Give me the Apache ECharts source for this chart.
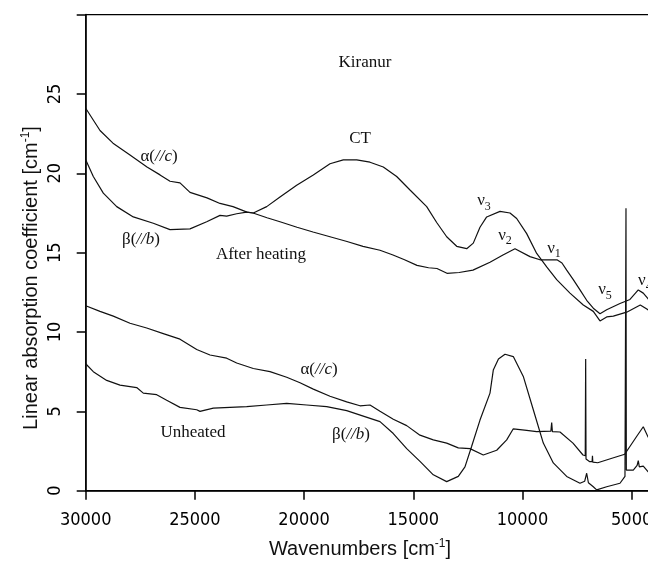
<!DOCTYPE html>
<html>
<head>
<meta charset="utf-8">
<script src="https://cdn.jsdelivr.net/npm/echarts@6/dist/echarts.min.js"></script>
<style>html,body{margin:0;padding:0;background:#fff}#c{width:648px;height:563px}</style>
</head>
<body>
<div id="c"></div>
<script>
// ---------- data ----------
const xTicks = [30000, 25000, 20000, 15000, 10000, 5000];

const heatedAlphaWn = [30000,29345,28750,27972,27193,26597,26139,25682,25224,24445,23850,23255,22614,22339,21698,21103,20324,19592,18813,18035,17303,16524,15929,15400,14830,14300,13915,13457,12900,12267,11488,10893,10343,9656,9198,8420,8191,7975,7673,7366,7060,6757,6450,6144,5535,5077,4697,4468,4253,4000];
const heatedAlphaVal = [24.1,22.7,21.9,21.15,20.4,19.9,19.5,19.4,18.8,18.45,18.1,17.9,17.55,17.5,17.2,16.95,16.6,16.3,16.0,15.7,15.4,15.15,14.85,14.55,14.2,14.05,14.0,13.7,13.75,13.9,14.4,14.85,15.25,14.75,14.55,14.55,14.35,13.9,13.3,12.65,12.0,11.5,11.15,11.4,11.8,12.05,12.65,12.45,12.1,11.6];

const heatedBetaWn = [30000,29652,29194,28580,27820,26905,26140,25224,24460,23850,23544,23086,22628,22326,21712,21103,20340,19578,18813,18205,17591,16982,16373,15760,15150,14386,13928,13470,13012,12554,12252,11945,11639,11029,10571,10265,9807,9349,8891,8433,7824,7215,6757,6450,6144,5840,5229,4606,4253,4000];
const heatedBetaVal = [20.85,19.8,18.75,17.9,17.25,16.85,16.45,16.5,16.95,17.35,17.3,17.45,17.55,17.5,17.9,18.5,19.25,19.9,20.6,20.85,20.85,20.7,20.4,19.8,18.95,17.9,16.9,16.0,15.4,15.25,15.6,16.6,17.25,17.6,17.5,17.15,16.2,14.95,14.1,13.3,12.45,11.7,11.3,10.7,10.95,11.0,11.25,11.7,11.4,11.0];

const unheatedAlphaWn = [30000,29345,28736,27972,27207,26447,25682,24917,24308,23544,23086,22326,21561,20796,20187,19578,18813,18049,17440,16982,16524,15915,15301,14693,14083,13470,12939,12403,11794,11180,10722,10420,9807,9349,8700,8662,8630,8282,7687,7229,7125,7106,7090,6919,6810,6795,6780,6553,5867,5317,5088,4781,4468,4253,4000];
const unheatedAlphaVal = [11.65,11.3,11.0,10.55,10.25,9.9,9.55,8.9,8.55,8.35,8.05,7.7,7.5,7.15,6.8,6.4,5.95,5.6,5.35,5.4,5.0,4.5,4.1,3.5,3.2,3.0,2.7,2.65,2.25,2.55,3.2,3.9,3.8,3.72,3.75,4.3,3.72,3.7,3.0,2.25,2.2,8.3,2.0,1.83,1.85,2.2,1.8,1.76,2.06,2.3,2.77,3.4,4.03,3.4,2.8];

const unheatedBetaWn = [30000,29652,29038,28429,27665,27362,26749,26291,25682,24917,24766,24157,23392,22628,21712,20796,19881,18965,18049,17289,16524,15915,15301,14693,14083,13470,12939,12633,12326,11945,11487,11336,11100,10800,10420,9962,9504,9046,8588,7975,7366,7150,7060,6980,6757,6603,6144,5535,5306,5275,5260,5245,4926,4750,4697,4650,4468,4253,4000];
const unheatedBetaVal = [8.0,7.5,6.95,6.65,6.5,6.15,6.05,5.7,5.25,5.1,5.0,5.2,5.25,5.3,5.4,5.5,5.4,5.3,5.05,4.7,4.35,3.6,2.65,1.85,1.0,0.57,0.9,1.5,2.8,4.45,6.15,7.6,8.3,8.6,8.45,7.2,5.1,3.0,1.75,0.9,0.47,0.6,1.1,0.5,0.25,0.05,0.25,0.47,0.9,1.0,17.8,1.3,1.3,1.6,1.9,1.5,1.55,1.2,0.9];

// annotation anchors in data coordinates [wavenumber, value]
const annotations = [
  {text: 'Kiranur', at: [17211, 27.0]},
  {text: 'CT', at: [17440, 22.16]},
  {text: 'α({i|//c})', at: [26643, 21.08]},
  {text: 'β({i|//b})', at: [27468, 15.85]},
  {text: 'After heating', at: [21974, 14.9]},
  {text: 'ν{s|3}', at: [11762, 18.26]},
  {text: 'ν{s|2}', at: [10801, 16.11]},
  {text: 'ν{s|1}', at: [8557, 15.29]},
  {text: 'ν{s|5}', at: [6222, 12.65]},
  {text: 'ν{s|4}', at: [4391, 13.22]},
  {text: 'α({i|//c})', at: [19317, 7.61]},
  {text: 'β({i|//b})', at: [17852, 3.51]},
  {text: 'Unheated', at: [25087, 3.64]}
];

// ---------- chart ----------
const zip = (a, b) => a.map((w, i) => [w, b[i]]);
const chart = echarts.init(document.getElementById('c'), null, {renderer: 'canvas'});
const tickFont = "'Liberation Sans Narrow','DejaVu Sans Condensed','Liberation Sans',sans-serif";
const serif = "'Liberation Serif','DejaVu Serif',serif";
const sans = "'Liberation Sans',Arial,sans-serif";
const lineSeries = (data) => ({
  type: 'line', data, showSymbol: false, symbol: 'none', clip: true,
  lineStyle: {color: '#111', width: 1.2}, animation: false
});

chart.setOption({
  animation: false,
  grid: {left: 85.7, top: 14.6, width: 567.8, height: 476.1, outerBoundsMode: 'none', containLabel: false,
    show: true, borderColor: '#000', borderWidth: 1.2},
  xAxis: {
    type: 'value', inverse: true, min: 4000, max: 30000,
    axisLine: {lineStyle: {color: '#000', width: 1.5}},
    axisTick: {show: true, customValues: xTicks, length: 9, lineStyle: {color: '#000', width: 1.5}},
    axisLabel: {customValues: xTicks, margin: 21, color: '#000', fontSize: 18, fontFamily: tickFont,
      showMinLabel: true, showMaxLabel: true, hideOverlap: false, formatter: v => String(v)},
    splitLine: {show: false}
  },
  yAxis: {
    type: 'value', min: 0, max: 30, interval: 5,
    axisLine: {show: true, lineStyle: {color: '#000', width: 1.5}},
    axisTick: {show: true, length: 9, lineStyle: {color: '#000', width: 1.5}},
    axisLabel: {rotate: 90, margin: 21, color: '#000', fontSize: 18, fontFamily: tickFont,
      formatter: v => (v === 30 ? '' : String(v))},
    splitLine: {show: false}
  },
  series: [
    lineSeries(zip(heatedAlphaWn, heatedAlphaVal)),
    lineSeries(zip(heatedBetaWn, heatedBetaVal)),
    lineSeries(zip(unheatedAlphaWn, unheatedAlphaVal)),
    lineSeries(zip(unheatedBetaWn, unheatedBetaVal))
  ]
});

const graphics = annotations.map(a => {
  const p = chart.convertToPixel({gridIndex: 0}, a.at);
  return {
    type: 'text', x: p[0], y: p[1], silent: true,
    style: {
      text: a.text, fill: '#111', font: '17px ' + serif,
      align: 'center', verticalAlign: 'middle',
      rich: {
        i: {fontStyle: 'italic', fontSize: 17, fontFamily: serif, fill: '#111'},
        s: {fontSize: 12, fontFamily: serif, fill: '#111', verticalAlign: 'bottom', padding: [12, 0, 0, 0]}
      }
    }
  };
});
graphics.push({
  type: 'text', x: 360, y: 549, silent: true,
  style: {text: 'Wavenumbers [cm{sup|-1}]', fill: '#111', font: '20px ' + sans, align: 'center', verticalAlign: 'middle',
    rich: {sup: {fontSize: 12, fontFamily: sans, fill: '#111', verticalAlign: 'top', padding: [0, 0, 10, 0]}}}
});
graphics.push({
  type: 'text', x: 31, y: 278, rotation: Math.PI / 2, silent: true,
  style: {text: 'Linear absorption coefficient [cm{sup|-1}]', fill: '#111', font: '20px ' + sans, align: 'center', verticalAlign: 'middle',
    rich: {sup: {fontSize: 12, fontFamily: sans, fill: '#111', verticalAlign: 'top', padding: [0, 0, 10, 0]}}}
});
chart.setOption({graphic: graphics});
</script>
</body>
</html>
